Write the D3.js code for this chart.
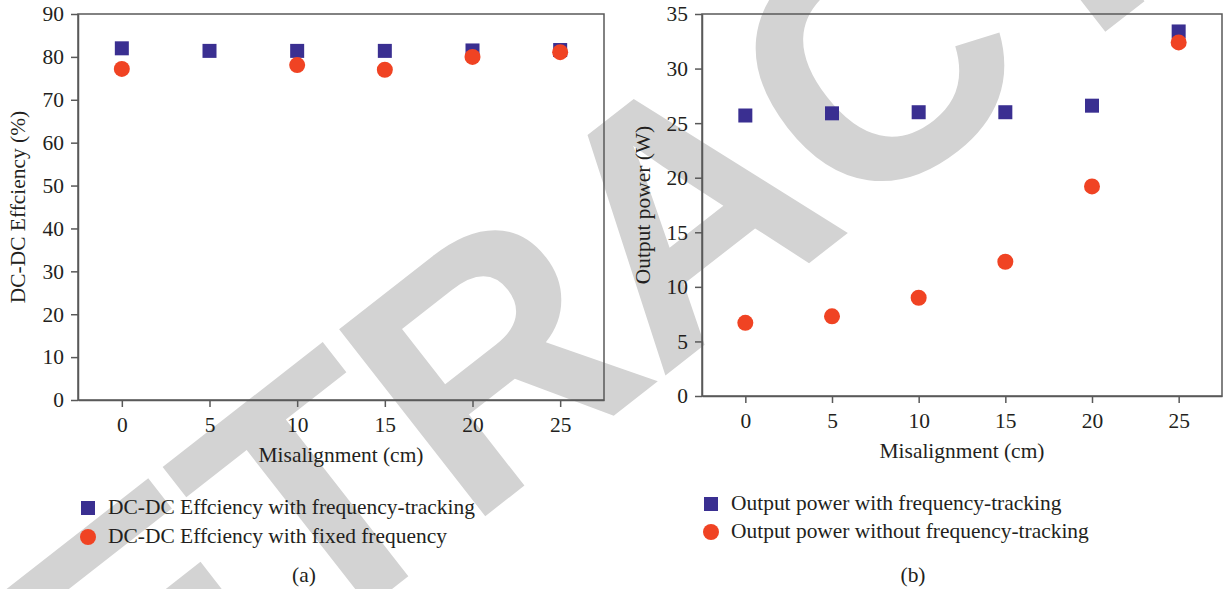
<!DOCTYPE html>
<html>
<head>
<meta charset="utf-8">
<script src="https://cdn.jsdelivr.net/npm/d3@7"></script>
<style>
  html, body { margin: 0; padding: 0; background: #fff; }
  svg { display: block; }
  text.lbl { font-family: "Liberation Serif", "DejaVu Serif", serif; fill: #231f20; }
</style>
</head>
<body>
<svg id="chart" width="1226" height="589"></svg>
<script>
/* --- Data --- */
const misalignment = [0, 5, 10, 15, 20, 25];
const xTicks = [0, 5, 10, 15, 20, 25];

// (a) DC-DC efficiency (%), no fixed-frequency point at 5 cm
const effTracking = [82.0, 81.4, 81.4, 81.4, 81.5, 81.6];
const effFixed = [77.2, null, 78.1, 77.0, 80.0, 81.1];
const effTicks = [0, 10, 20, 30, 40, 50, 60, 70, 80, 90];

// (b) Output power (W)
const powTracking = [25.7, 25.9, 26.0, 26.0, 26.6, 33.4];
const powFixed = [6.7, 7.3, 9.0, 12.3, 19.2, 32.4];
const powTicks = [0, 5, 10, 15, 20, 25, 30, 35];

const COLORS = {
    square: '#3a2f91',
    circle: '#f04323',
    axis: '#595959',
    mark: '#d3d3d3'
};

const svg = d3.select('#chart');

// pick a font size so the x title comes out about as wide as the original
const probe = svg.append('text').attr('class', 'lbl').style('font-size', '20px').text('Misalignment (cm)');
const FONT = 20 * 165 / probe.node().getComputedTextLength();
probe.remove();

/* --- Watermark --- */
const wmX = 678, wmY = 208;
svg.append('text')
    .attr('x', wmX).attr('y', wmY)
    .attr('text-anchor', 'middle')
    .attr('dy', '0.36em')
    .attr('transform', `rotate(-38, ${wmX}, ${wmY})`)
    .style('font-family', '"Liberation Sans", Arial, sans-serif')
    .style('font-weight', 'bold')
    .style('font-size', '345px')
    .style('letter-spacing', '-6px')
    .style('fill', COLORS.mark)
    .text('RETRACTED');

/* --- Panel builder --- */
function panel(opt) {
    const x = d3.scaleLinear().domain([-2.5, 27.5]).range(opt.xRange);
    const y = d3.scaleLinear().domain(opt.yDomain).range(opt.yRange);
    const g = svg.append('g');

    // frame (top / right)
    g.append('rect')
        .attr('x', x.range()[0]).attr('y', y.range()[1])
        .attr('width', x.range()[1] - x.range()[0])
        .attr('height', y.range()[0] - y.range()[1])
        .attr('fill', 'none')
        .attr('stroke', COLORS.axis)
        .attr('stroke-width', 1.5);

    const yAxis = g.append('g')
        .attr('transform', `translate(${x.range()[0]},0)`)
        .call(d3.axisLeft(y).tickValues(opt.yTicks).tickSize(7).tickSizeOuter(0).tickPadding(7));
    const xAxis = g.append('g')
        .attr('transform', `translate(0,${y.range()[0]})`)
        .call(d3.axisBottom(x).tickValues(xTicks).tickSize(7).tickSizeOuter(0).tickPadding(10));
    [xAxis, yAxis].forEach(a => {
        a.selectAll('path, line').attr('stroke', COLORS.axis).attr('stroke-width', 1.5);
        a.selectAll('text')
            .attr('class', 'lbl')
            .style('font-size', FONT + 'px');
    });

    // axis titles
    const cx = (x.range()[0] + x.range()[1]) / 2;
    const cy = (y.range()[0] + y.range()[1]) / 2;
    g.append('text')
        .attr('class', 'lbl')
        .attr('x', cx).attr('y', y.range()[0] + 62)
        .attr('text-anchor', 'middle')
        .style('font-size', FONT + 'px')
        .text('Misalignment (cm)');
    g.append('text')
        .attr('class', 'lbl')
        .attr('transform', `translate(${opt.yLabelX},${cy}) rotate(-90)`)
        .attr('text-anchor', 'middle')
        .style('font-size', FONT + 'px')
        .text(opt.yLabel);

    // series: squares first, circles drawn on top
    const sq = 14;
    g.selectAll('rect.sq')
        .data(misalignment.map((m, i) => [m, opt.sqData[i]]).filter(d => d[1] != null))
        .enter().append('rect')
        .attr('class', 'sq')
        .attr('x', d => x(d[0]) - sq / 2)
        .attr('y', d => y(d[1]) - sq / 2)
        .attr('width', sq).attr('height', sq)
        .attr('fill', COLORS.square);
    g.selectAll('circle.ci')
        .data(misalignment.map((m, i) => [m, opt.ciData[i]]).filter(d => d[1] != null))
        .enter().append('circle')
        .attr('class', 'ci')
        .attr('cx', d => x(d[0]))
        .attr('cy', d => y(d[1]))
        .attr('r', 8)
        .attr('fill', COLORS.circle);

    // legend
    const lg = g.append('g');
    lg.append('rect')
        .attr('x', opt.legend[0] - sq / 2).attr('y', opt.legend[1] - sq / 2)
        .attr('width', sq).attr('height', sq)
        .attr('fill', COLORS.square);
    lg.append('circle')
        .attr('cx', opt.legend[0]).attr('cy', opt.legend[1] + opt.legendGap)
        .attr('r', 8)
        .attr('fill', COLORS.circle);
    opt.names.forEach((name, i) => {
        lg.append('text')
            .attr('class', 'lbl')
            .attr('x', opt.legend[0] + 20).attr('y', opt.legend[1] + i * opt.legendGap + 6)
            .style('font-size', FONT + 'px')
            .text(name);
    });

    // caption
    g.append('text')
        .attr('class', 'lbl')
        .attr('x', opt.caption).attr('y', 582)
        .attr('text-anchor', 'middle')
        .style('font-size', FONT + 'px')
        .text(opt.captionText);
}

panel({
    xRange: [78, 604],
    yDomain: [0, 90],
    yRange: [400, 14],
    yTicks: effTicks,
    yLabel: 'DC-DC Effciency (%)',
    yLabelX: 25,
    sqData: effTracking,
    ciData: effFixed,
    legend: [88, 508],
    legendGap: 29,
    names: ['DC-DC Effciency with frequency-tracking', 'DC-DC Effciency with fixed frequency'],
    caption: 304,
    captionText: '(a)'
});

panel({
    xRange: [702, 1222],
    yDomain: [0, 35],
    yRange: [396, 14],
    yTicks: powTicks,
    yLabel: 'Output power (W)',
    yLabelX: 650,
    sqData: powTracking,
    ciData: powFixed,
    legend: [711, 504],
    legendGap: 28,
    names: ['Output power with frequency-tracking', 'Output power without frequency-tracking'],
    caption: 913,
    captionText: '(b)'
});
</script>
</body>
</html>
